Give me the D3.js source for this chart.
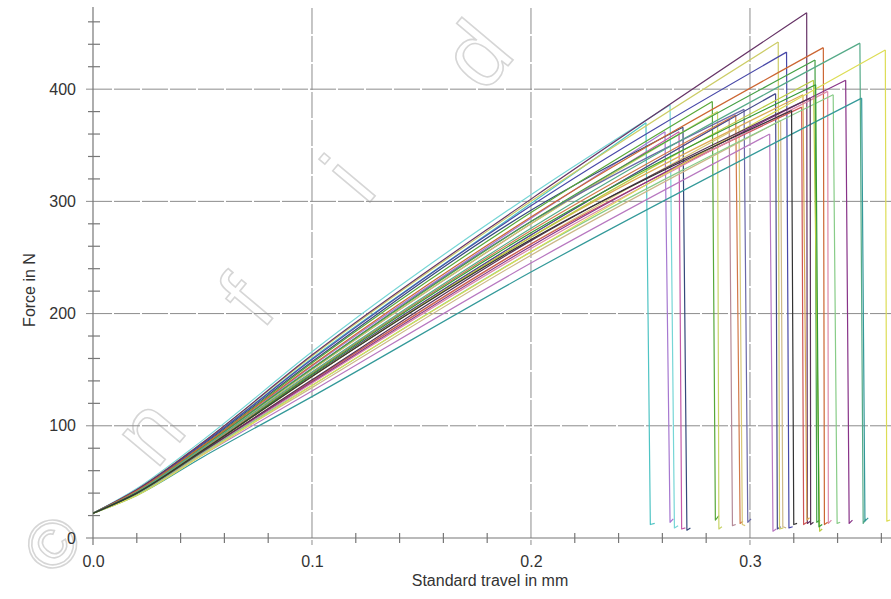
<!DOCTYPE html>
<html>
<head>
<meta charset="utf-8">
<script src="https://cdn.jsdelivr.net/npm/d3@7"></script>
<style>
  body { margin: 0; background: #fff; }
  svg { display: block; font-family: "Liberation Sans", Arial, sans-serif; }
</style>
</head>
<body>
<svg width="891" height="599"></svg>
<script>
  const travelKnots = [0, 0.02, 0.05, 0.1, 0.2];

  // force (N) of each specimen at travelKnots
  const forceAtKnots = [
    [22, 43, 84, 160, 298], [22, 44, 87, 166, 306], [22, 42, 81, 153, 285],
    [22, 41, 80, 150, 280], [22, 42, 83, 157, 292], [22, 42, 82, 156, 290],
    [22, 41, 80, 150, 280], [22, 40, 78, 145, 270], [22, 41, 79, 147, 274],
    [22, 40, 77, 140, 262], [22, 41, 81, 151, 282], [22, 39, 74, 131, 245],
    [22, 40, 78, 145, 270], [22, 43, 85, 162, 300], [22, 39, 75, 134, 252],
    [22, 43, 84, 159, 296], [22, 43, 85, 163, 302], [22, 40, 77, 140, 262],
    [22, 40, 78, 144, 268], [22, 41, 81, 151, 282], [22, 40, 78, 144, 268],
    [22, 42, 82, 154, 286], [22, 40, 76, 138, 258], [22, 39, 76, 136, 255],
    [22, 40, 77, 139, 260], [22, 41, 80, 148, 276], [22, 38, 72, 126, 237],
    [22, 38, 74, 136, 255], [22, 40, 77, 141, 265], [22, 40, 78, 146, 272],
    [22, 40, 78, 144, 266]
  ];

  // break point: travel and peak force
  const breakTravel = [0.2525, 0.2635, 0.2612, 0.2676, 0.2694, 0.2828, 0.2852, 0.2905, 0.2935, 0.2950,
    0.2973, 0.3090, 0.3117, 0.3129, 0.3140, 0.3167, 0.3259, 0.3236, 0.3242, 0.3297, 0.3290, 0.3335,
    0.3355, 0.3380, 0.3437, 0.3502, 0.3510, 0.3618, 0.3275, 0.3300, 0.3190];
  const peakForce = [370, 386, 362, 362, 366, 389, 380, 373, 377, 366,
    382, 360, 396, 442, 372, 433, 468, 384, 395, 426, 408, 437,
    398, 395, 408, 441, 392, 435, 392, 404, 381];

  // bottom of the drop after the break
  const dropTravel = [0.2545, 0.2655, 0.2635, 0.2688, 0.2712, 0.2842, 0.2858, 0.2920, 0.2955, 0.2965,
    0.2990, 0.3105, 0.3125, 0.3135, 0.3150, 0.3178, 0.3262, 0.3245, 0.3260, 0.3305, 0.3318, 0.3340,
    0.3358, 0.3398, 0.3453, 0.3517, 0.3525, 0.3625, 0.3277, 0.3315, 0.3200];
  const dropForce = [12, 9, 14, 8, 7, 16, 8, 11, 13, 12, 14, 6, 8, 8, 10, 9, 13, 12, 16, 14, 6, 12,
    13, 13, 13, 13, 15, 15, 12, 10, 12];

  // end of the short hook at the bottom
  const tailTravel = [0.2565, 0.2672, 0.2650, 0.2705, 0.2728, 0.2858, 0.2872, 0.2935, 0.2968, 0.2978,
    0.3005, 0.3120, 0.3140, 0.3152, 0.3165, 0.3195, 0.3275, 0.3260, 0.3272, 0.3320, 0.3330, 0.3355,
    0.3372, 0.3412, 0.3468, 0.3530, 0.3540, 0.3640, 0.3290, 0.3330, 0.3215];
  const tailForce = [13, 11, 17, 9, 9, 20, 10, 12, 15, 11, 17, 8, 10, 9, 9, 10, 15, 14, 18, 16, 8, 14,
    16, 14, 16, 17, 18, 16, 14, 12, 13];

  const xMajor = [0, 0.1, 0.2, 0.3];
  const yMajor = [0, 100, 200, 300, 400];
  const xMinor = d3.range(0, 0.37, 0.02);
  const yMinor = d3.range(20, 480, 20);
  const watermark = ["©", "n", "f", "i", "d"];

  const palette = ["#4fc4c4", "#76d6d6", "#a678d0", "#c459a8", "#34487a", "#58a838", "#c8d468",
    "#b58a98", "#d2784a", "#d8c878", "#6a68a8", "#b878c0", "#454a8c", "#cccc66", "#ccb888",
    "#4848a8", "#663366", "#cc5555", "#ddaa55", "#44a044", "#bbcc44", "#cc6633", "#dd88aa",
    "#88cc88", "#883388", "#55aa88", "#339999", "#dddd55", "#553355", "#339933", "#333333"];
  const markPos = [[54, 545], [150, 432], [248, 302], [350, 180], [478, 56]];
  const markSize = [68, 92, 92, 92, 92];

  const svg = d3.select("svg");
  const x = d3.scaleLinear().domain([0, 0.3644]).range([93, 891]);
  const y = d3.scaleLinear().domain([0, 475]).range([538, 5]);

  svg.append("defs").append("clipPath").attr("id", "plot")
    .append("rect").attr("x", 93).attr("y", 0).attr("width", 798).attr("height", 540);

  // watermark
  svg.append("g").selectAll("text")
    .data(watermark)
    .join("text")
    .attr("transform", (d, i) => `translate(${markPos[i][0]},${markPos[i][1]}) rotate(-50)`)
    .attr("text-anchor", "middle")
    .attr("dy", "0.32em")
    .attr("font-size", (d, i) => markSize[i])
    .attr("fill", "none")
    .attr("stroke", "#d6d6d6")
    .attr("stroke-width", 1.6)
    .text(d => d);

  // grid
  const grid = svg.append("g").attr("stroke", "#8c8c8c").attr("stroke-width", 1)
    .attr("stroke-dasharray", "26,2");
  grid.selectAll("line.h")
    .data(yMajor.filter(v => v > 0))
    .join("line").attr("class", "h")
    .attr("x1", 86).attr("x2", 891)
    .attr("y1", d => y(d)).attr("y2", d => y(d));
  grid.selectAll("line.v")
    .data(xMajor.filter(v => v > 0))
    .join("line").attr("class", "v")
    .attr("x1", d => x(d)).attr("x2", d => x(d))
    .attr("y1", 8).attr("y2", 545);

  // axes lines and minor ticks
  const axes = svg.append("g").attr("stroke", "#777").attr("stroke-width", 1.2);
  axes.append("line").attr("x1", x(0)).attr("x2", x(0)).attr("y1", 7).attr("y2", 545);
  axes.append("line").attr("x1", 86).attr("x2", 891).attr("y1", y(0)).attr("y2", y(0));
  axes.selectAll("line.ym")
    .data(yMinor.filter(v => v % 100 !== 0))
    .join("line").attr("class", "ym")
    .attr("x1", x(0) - 5).attr("x2", x(0) + 7)
    .attr("y1", d => y(d)).attr("y2", d => y(d));
  axes.selectAll("line.xm")
    .data(xMinor.filter(v => Math.abs(v * 10 - Math.round(v * 10)) > 1e-6))
    .join("line").attr("class", "xm")
    .attr("x1", d => x(d)).attr("x2", d => x(d))
    .attr("y1", y(0) - 5).attr("y2", y(0) + 5);

  // tick labels via d3 axes
  const yAxis = svg.append("g").attr("transform", `translate(${x(0)},0)`)
    .call(d3.axisLeft(y).tickValues(yMajor).tickSize(0).tickPadding(17).tickFormat(d3.format("d")));
  const xAxis = svg.append("g").attr("transform", `translate(0,${y(0)})`)
    .call(d3.axisBottom(x).tickValues(xMajor).tickSize(0).tickPadding(18).tickFormat(d3.format(".1f")));
  [yAxis, xAxis].forEach(a => {
    a.select(".domain").remove();
    a.selectAll("text").attr("font-size", 16).attr("fill", "#333")
      .attr("font-family", "'Liberation Sans', Arial, sans-serif");
  });

  svg.append("text")
    .attr("transform", "translate(35,290) rotate(-90)")
    .attr("text-anchor", "middle")
    .attr("font-size", 16).attr("fill", "#333")
    .text("Force in N");
  svg.append("text")
    .attr("x", 490).attr("y", 586)
    .attr("text-anchor", "middle")
    .attr("font-size", 16).attr("fill", "#333")
    .text("Standard travel in mm");

  // curves
  const rise = d3.line().x(d => x(d[0])).y(d => y(d[1])).curve(d3.curveMonotoneX);
  const drop = d3.line().x(d => x(d[0])).y(d => y(d[1]));

  const specimens = forceAtKnots.map((f, i) => ({
    rise: travelKnots.map((t, k) => [t, f[k]]).concat([[breakTravel[i], peakForce[i]]]),
    drop: [[breakTravel[i], peakForce[i]], [dropTravel[i], dropForce[i]], [tailTravel[i], tailForce[i]]]
  }));

  const curves = svg.append("g").attr("clip-path", "url(#plot)")
    .attr("fill", "none").attr("stroke-width", 1.2).attr("stroke-linejoin", "round");
  const g = curves.selectAll("g").data(specimens).join("g")
    .attr("stroke", (d, i) => palette[i]);
  g.append("path").attr("d", d => rise(d.rise));
  g.append("path").attr("d", d => drop(d.drop));
</script>
</body>
</html>
